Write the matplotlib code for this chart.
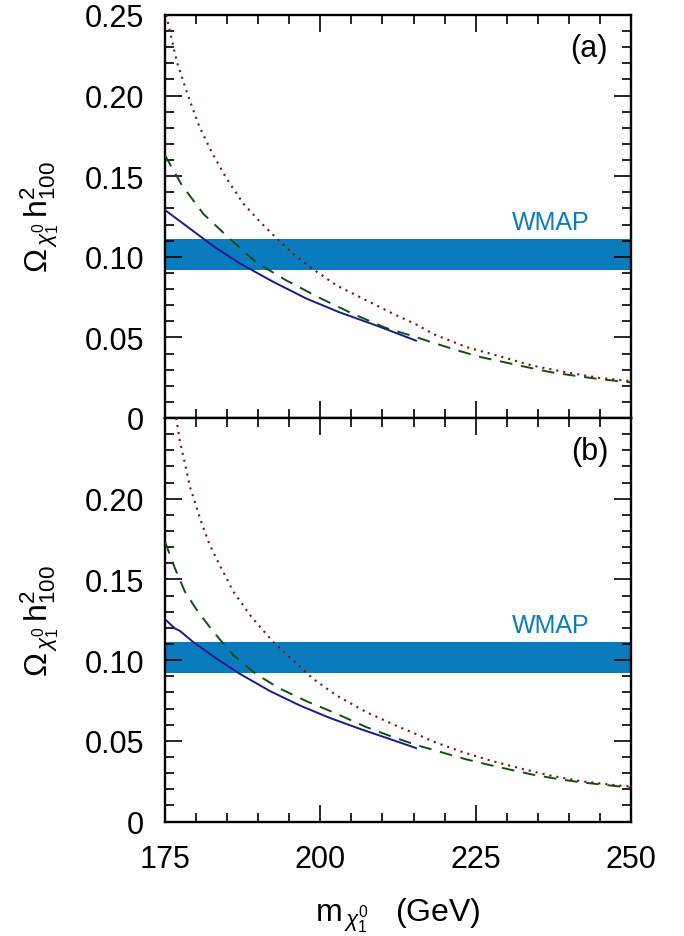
import matplotlib
matplotlib.use("Agg")
import matplotlib.pyplot as plt
from matplotlib.ticker import MultipleLocator, FuncFormatter

plt.rcParams['font.family'] = ['Liberation Sans', 'DejaVu Sans']
plt.rcParams['mathtext.fontset'] = 'custom'
plt.rcParams['mathtext.rm'] = 'Liberation Sans'
plt.rcParams['mathtext.it'] = 'Liberation Sans:italic'
plt.rcParams['mathtext.bf'] = 'Liberation Sans:bold'

# WMAP band
wmap_lo, wmap_hi = 0.092, 0.111

# panel (a)
a_solid_x = [175, 179, 183, 187, 192.4, 197.8, 203, 209, 215.4]
a_solid_y = [0.129, 0.1175, 0.106, 0.096, 0.0845, 0.074, 0.0657, 0.0574, 0.048]
a_dash_x = [175, 177.7, 181.2, 185.4, 189.7, 194.5, 199.9, 205.2, 210.6, 214.9, 218.4, 222.1,
            225.9, 229.6, 233.3, 237.1, 240.8, 244.6, 248.6, 250]
a_dash_y = [0.163, 0.1445, 0.1265, 0.1113, 0.0965, 0.0854, 0.0745, 0.0647, 0.0558, 0.0508, 0.0464, 0.0419,
            0.0377, 0.0346, 0.0315, 0.0284, 0.0263, 0.0243, 0.0226, 0.0221]
a_dot_x = [175.2, 176.9, 178.7, 180.5, 182.5, 184.9, 187.6, 190.3, 193, 195.6, 198.3, 202.6, 207.4,
           211.7, 215.7, 218.1, 223.5, 228.8, 234.1, 239.5, 244.9, 249.1, 250]
a_dot_y = [0.25, 0.221, 0.200, 0.181, 0.165, 0.1486, 0.133, 0.1217, 0.1113, 0.102, 0.0937, 0.0823, 0.073,
           0.0647, 0.0575, 0.0522, 0.044, 0.0384, 0.0325, 0.0284, 0.0249, 0.0232, 0.0229]

# panel (b)
b_solid_x = [175, 176.6, 177.4, 179.5, 183.3, 187, 191.9, 196.7, 201.5, 206.3, 211.1, 215.4]
b_solid_y = [0.1253, 0.1196, 0.1181, 0.1113, 0.1009, 0.0916, 0.0808, 0.0719, 0.0642, 0.0575, 0.0512, 0.0455]
b_dash_x = [175, 176.6, 178.2, 180.3, 182.8, 186, 189.7, 193.5, 197.8, 202, 207.4, 211.7, 215.7,
            219.4, 223.2, 226.9, 230.7, 234.1, 238.1, 241.9, 245.7, 249.4, 250]
b_dash_y = [0.1734, 0.1568, 0.1424, 0.13, 0.1175, 0.103, 0.0912, 0.0823, 0.0745, 0.0678, 0.0585, 0.0523, 0.0471,
            0.043, 0.0388, 0.0353, 0.032, 0.0291, 0.0264, 0.0243, 0.0227, 0.0212, 0.021]
b_dot_x = [176.8, 177.4, 178.2, 179, 179.8, 180.9, 182.2, 183.8, 186, 188.9, 192.4, 195.6, 198.8,
           202.6, 207.4, 212.7, 216, 218.1, 222.9, 227.7, 232.5, 237.1, 241.9, 247, 250]
b_dot_y = [0.25, 0.2355, 0.222, 0.2076, 0.198, 0.1848, 0.1713, 0.1589, 0.1424, 0.1268, 0.1113, 0.0999, 0.0885,
           0.0781, 0.0678, 0.0585, 0.0533, 0.0496, 0.043, 0.0374, 0.0326, 0.0284, 0.025, 0.0227, 0.0216]

panels = [
    ("(a)", a_solid_x, a_solid_y, a_dash_x, a_dash_y, a_dot_x, a_dot_y),
    ("(b)", b_solid_x, b_solid_y, b_dash_x, b_dash_y, b_dot_x, b_dot_y),
]

fig = plt.figure(figsize=(6.84, 9.37), dpi=100)
left, right = 165 / 684, 631 / 684
bottom, mid, top = 1 - 822.5 / 937, 1 - 419 / 937, 1 - 16 / 937
ax_top = fig.add_axes([left, mid, right - left, top - mid])
ax_bot = fig.add_axes([left, bottom, right - left, mid - bottom])

band_color = '#0a7cbe'
ylab = r'$\Omega_{\,\chi^0_1}\,\mathrm{h}^2_{100}$'


def yfmt(v, pos):
    if abs(v) < 1e-9:
        return '0'
    return '%.2f' % v


for ax, (tag, sx, sy, dx, dy, ox, oy) in zip([ax_top, ax_bot], panels):
    ax.axhspan(wmap_lo, wmap_hi, color=band_color, lw=0, zorder=1)
    ax.plot(sx, sy, color='#1a1a8f', lw=1.4, zorder=3)
    ax.plot(dx, dy, color='#0f4f12', lw=1.4, dashes=(6.5, 4.5), zorder=3)
    ax.plot(ox, oy, color='#8b0a0a', lw=1.5, dashes=(1, 2.4), zorder=3)
    ax.text(237, 0.1144, 'WMAP', color=band_color, fontsize=18, ha='center', va='bottom')
    ax.text(246.3, 0.2295, tag, fontsize=22, ha='right', va='center')
    ax.set_xlim(175, 250)
    ax.set_ylim(0, 0.25)
    ax.xaxis.set_major_locator(MultipleLocator(25))
    ax.xaxis.set_minor_locator(MultipleLocator(5))
    ax.yaxis.set_major_locator(MultipleLocator(0.05))
    ax.yaxis.set_minor_locator(MultipleLocator(0.01))
    ax.yaxis.set_major_formatter(FuncFormatter(yfmt))
    ax.tick_params(which='both', direction='in', top=True, right=True, width=1.2, labelsize=22)
    ax.tick_params(which='major', length=12, pad=15)
    ax.tick_params(which='minor', length=6.5)
    for s in ax.spines.values():
        s.set_linewidth(1.7)
    ax.set_ylabel(ylab, fontsize=23, labelpad=17)

ax_top.tick_params(labelbottom=False)
ax_bot.set_yticks([0, 0.05, 0.10, 0.15, 0.20])
ax_bot.set_ylim(0, 0.25)
ax_bot.set_xlabel(r'$\mathrm{m}_{\,\chi^0_1}$   (GeV)', fontsize=23, labelpad=16)
ax_bot.tick_params(axis='x', pad=16)

fig.savefig('out.png', dpi=100)
